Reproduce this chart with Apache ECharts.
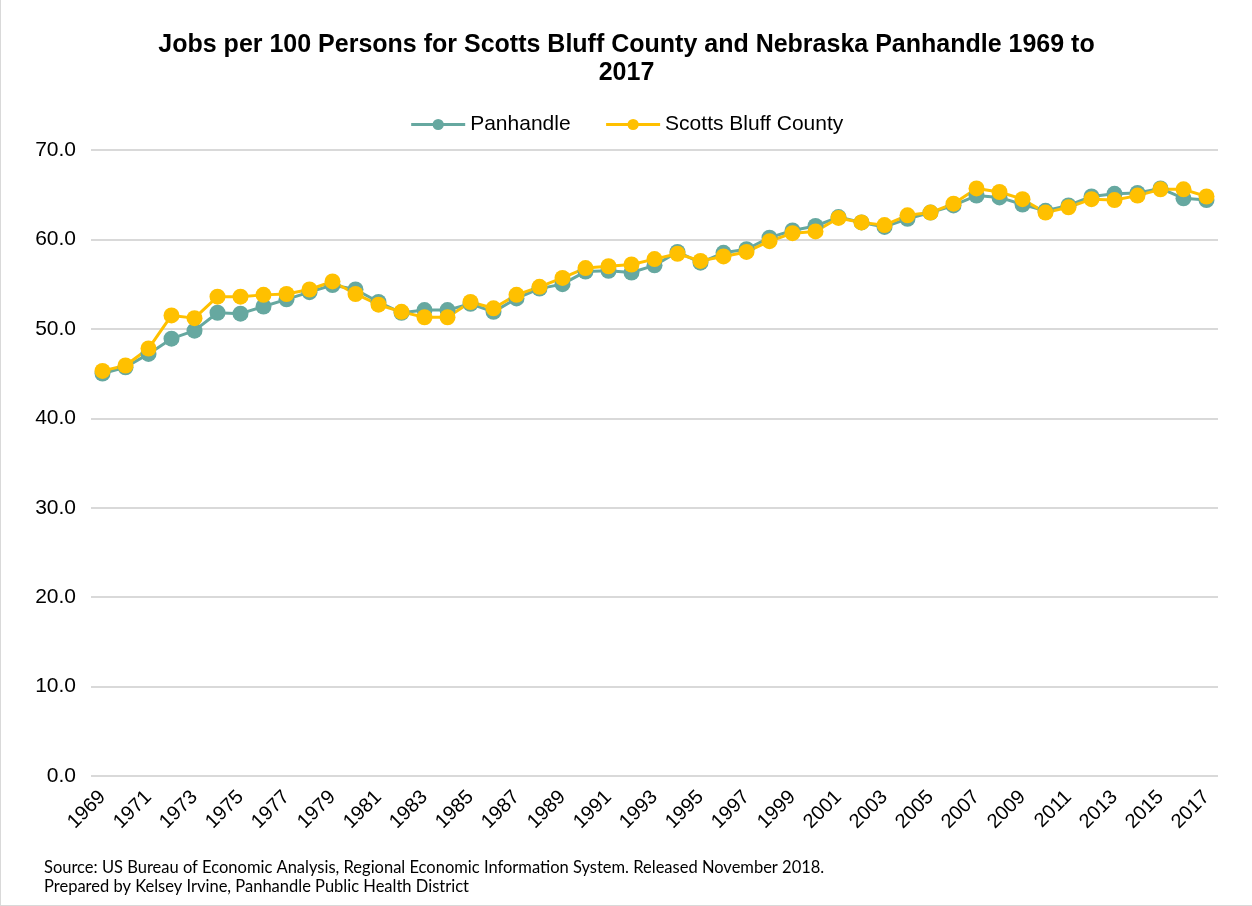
<!DOCTYPE html>
<html lang="en">
<head>
  <meta charset="UTF-8">
  <title>Jobs per 100 Persons</title>
  <script src="https://cdn.jsdelivr.net/npm/echarts@6/dist/echarts.min.js"></script>
  <style>
    body { margin: 0; background: #fff; }
    #main { width: 1252px; height: 906px; box-sizing: border-box; border-left: 1px solid #d9d9d9; border-bottom: 1px solid #d9d9d9; }
  </style>
</head>
<body>
  <div id="main"></div>
<script>
  // data
  var years = [];
  for (var y = 1969; y <= 2017; y++) years.push(String(y));

  var panhandle = [
    45.0, 45.7, 47.2, 48.9, 49.8, 51.8, 51.7, 52.5, 53.3, 54.1,
    54.9, 54.4, 53.0, 51.8, 52.1, 52.1, 52.8, 51.9, 53.4, 54.5,
    55.0, 56.4, 56.5, 56.3, 57.1, 58.6, 57.4, 58.5, 58.9, 60.2,
    61.0, 61.5, 62.5, 61.9, 61.4, 62.3, 63.0, 63.8, 64.9, 64.7,
    63.9, 63.2, 63.8, 64.8, 65.1, 65.2, 65.7, 64.6, 64.4
  ];
  var scottsBluff = [
    45.3, 45.9, 47.8, 51.5, 51.2, 53.6, 53.6, 53.8, 53.9, 54.4,
    55.3, 53.9, 52.7, 51.9, 51.3, 51.3, 53.0, 52.3, 53.8, 54.7,
    55.7, 56.8, 57.0, 57.2, 57.8, 58.4, 57.6, 58.1, 58.6, 59.8,
    60.7, 60.9, 62.4, 61.9, 61.6, 62.7, 63.0, 64.0, 65.7, 65.3,
    64.5, 63.0, 63.6, 64.5, 64.4, 64.9, 65.6, 65.6, 64.8
  ];

  var chart = echarts.init(document.getElementById('main'));
  var option = {
    animation: false,
    title: {
      text: 'Jobs per 100 Persons for Scotts Bluff County and Nebraska Panhandle 1969 to\n2017',
      left: 'center',
      top: 26,
      textStyle: { fontFamily: 'Liberation Sans, Arial', fontWeight: 'bold', fontSize: 25, color: '#000', lineHeight: 28 }
    },
    legend: {
      top: 109,
      left: 'center',
      itemWidth: 54,
      itemHeight: 14,
      itemGap: 34,
      lineStyle: { width: 3 },
      textStyle: { fontFamily: 'Liberation Sans, Arial', fontSize: 21, color: '#000' },
      data: ['Panhandle', 'Scotts Bluff County']
    },
    grid: { left: 90, right: 34, top: 150, bottom: 129, containLabel: false },
    xAxis: {
      type: 'category',
      data: years,
      boundaryGap: true,
      axisLine: { show: false },
      axisTick: { show: false },
      axisLabel: {
        interval: 1,
        rotate: 45,
        margin: 18,
        fontFamily: 'Liberation Sans, Arial',
        fontSize: 20,
        color: '#000'
      }
    },
    yAxis: {
      type: 'value',
      min: 0,
      max: 70,
      interval: 10,
      axisLine: { show: false },
      axisTick: { show: false },
      splitLine: { lineStyle: { color: '#d9d9d9', width: 2 } },
      axisLabel: {
        formatter: function (v) { return v.toFixed(1); },
        margin: 15,
        fontFamily: 'Liberation Sans, Arial',
        fontSize: 21,
        color: '#000'
      }
    },
    series: [
      {
        name: 'Panhandle',
        type: 'line',
        data: panhandle,
        symbol: 'circle',
        symbolSize: 16,
        showAllSymbol: true,
        lineStyle: { color: '#66a8a0', width: 3 },
        itemStyle: { color: '#66a8a0' }
      },
      {
        name: 'Scotts Bluff County',
        type: 'line',
        data: scottsBluff,
        symbol: 'circle',
        symbolSize: 16,
        showAllSymbol: true,
        lineStyle: { color: '#ffc000', width: 3 },
        itemStyle: { color: '#ffc000' }
      }
    ],
    graphic: [
      {
        type: 'text',
        left: 43,
        top: 858,
        style: {
          text: 'Source: US Bureau of Economic Analysis, Regional Economic Information System. Released November 2018.\nPrepared by Kelsey Irvine, Panhandle Public Health District',
          font: '16.5px Lato, sans-serif',
          fill: '#000',
          lineHeight: 19
        }
      }
    ]
  };
  chart.setOption(option);
</script>
</body>
</html>
